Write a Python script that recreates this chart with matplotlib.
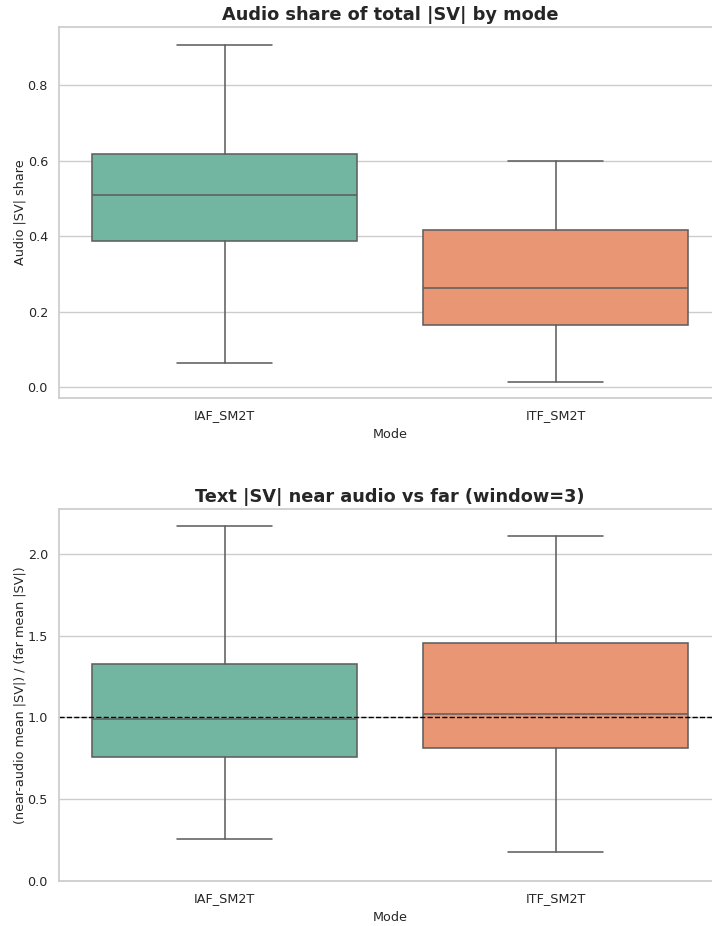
import matplotlib
matplotlib.use("Agg")
import matplotlib.pyplot as plt
import seaborn as sns

modes = ["IAF_SM2T", "ITF_SM2T"]

# box stats per mode: lower whisker, Q1, median, Q3, upper whisker
share_whislo = [0.064, 0.013]
share_q1 = [0.387, 0.164]
share_med = [0.509, 0.262]
share_q3 = [0.617, 0.416]
share_whishi = [0.906, 0.600]

ratio_whislo = [0.257, 0.177]
ratio_q1 = [0.757, 0.812]
ratio_med = [0.992, 1.021]
ratio_q3 = [1.328, 1.456]
ratio_whishi = [2.171, 2.110]

sns.set_theme(style="whitegrid")
plt.rcParams["font.family"] = ["DejaVu Sans"]

palette = [sns.desaturate(c, 0.75) for c in sns.color_palette("Set2", 2)]
line_col = "#5f5f5f"
lw = 1.15


def make_stats(lo, q1, med, q3, hi):
    return [dict(label=m, whislo=a, q1=b, med=c, q3=d, whishi=e, fliers=[])
            for m, a, b, c, d, e in zip(modes, lo, q1, med, q3, hi)]


def draw(ax, stats, title, ylabel):
    art = ax.bxp(stats, positions=range(len(stats)), widths=0.8,
                 patch_artist=True, showfliers=False, capwidths=0.29,
                 boxprops=dict(edgecolor=line_col, linewidth=lw),
                 whiskerprops=dict(color=line_col, linewidth=lw),
                 capprops=dict(color=line_col, linewidth=lw),
                 medianprops=dict(color=line_col, linewidth=lw))
    for patch, col in zip(art["boxes"], palette):
        patch.set_facecolor(col)
    ax.set_xlim(-0.5, 1.5)
    ax.set_xticks(range(len(modes)))
    ax.set_xticklabels(modes)
    ax.tick_params(axis="both", labelsize=9.2, length=0, pad=8)
    ax.xaxis.grid(False)
    ax.set_xlabel("Mode", fontsize=9.2, labelpad=4)
    ax.set_ylabel(ylabel, fontsize=9.2, labelpad=1)
    ax.set_title(title, fontsize=12.8, fontweight="bold", pad=5)


fig = plt.figure(figsize=(7.12, 9.26), dpi=100)
ax1 = fig.add_axes([59 / 712, 1 - 398 / 926, 662 / 712, 371 / 926])
ax2 = fig.add_axes([59 / 712, 1 - 881 / 926, 662 / 712, 372 / 926])

draw(ax1, make_stats(share_whislo, share_q1, share_med, share_q3, share_whishi),
     "Audio share of total |SV| by mode", "Audio |SV| share")
ax1.set_ylim(-0.029, 0.954)
ax1.set_yticks([0.0, 0.2, 0.4, 0.6, 0.8])

draw(ax2, make_stats(ratio_whislo, ratio_q1, ratio_med, ratio_q3, ratio_whishi),
     "Text |SV| near audio vs far (window=3)",
     "(near-audio mean |SV|) / (far mean |SV|)")
ax2.axhline(1.0, color="black", linestyle="--", linewidth=1)
ax2.set_ylim(0, 2.275)
ax2.set_yticks([0.0, 0.5, 1.0, 1.5, 2.0])

fig.savefig("out.png", dpi=100)
